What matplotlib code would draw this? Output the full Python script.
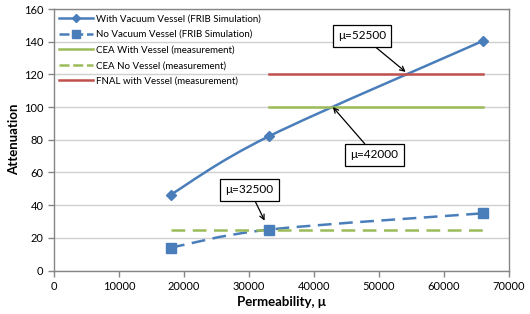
import numpy as np
import matplotlib
matplotlib.use("Agg")
import matplotlib.pyplot as plt
from matplotlib.path import Path
from matplotlib.patches import PathPatch
from matplotlib.lines import Line2D

plt.rcParams['font.family'] = ['Lato', 'DejaVu Sans']

# ---- data ----
perm_sim = [18000, 33000, 66000]
with_vessel_sim = [46.5, 82, 140.5]
no_vessel_sim = [14, 25, 35]

cea_with_x = [33000, 66000]
cea_with_y = [100, 100]
cea_no_x = [18000, 66000]
cea_no_y = [25, 25]
fnal_with_x = [33000, 66000]
fnal_with_y = [120, 120]

labels = ["With Vacuum Vessel (FRIB Simulation)",
          "No Vacuum Vessel (FRIB Simulation)",
          "CEA With Vessel (measurement)",
          "CEA No Vessel (measurement)",
          "FNAL with Vessel (measurement)"]

ann_text = ["\u03bc=52500", "\u03bc=42000", "\u03bc=32500"]
ann_xy = [(54100, 121.5), (42900, 100), (32400, 30.5)]
ann_xytext = [(47400, 143.5), (49300, 70.7), (30100, 49.3)]

blue = '#4A7EBB'
green = '#9BBB59'
red = '#C0504D'


def smooth_path(xs, ys):
    pts = np.column_stack([xs, ys]).astype(float)
    n = len(pts)
    verts = [pts[0]]
    codes = [Path.MOVETO]
    for i in range(n - 1):
        p0 = pts[i - 1] if i > 0 else pts[i]
        p1 = pts[i]
        p2 = pts[i + 1]
        p3 = pts[i + 2] if i + 2 < n else pts[i + 1]
        c1 = p1 + (p2 - p0) / 6.0
        c2 = p2 - (p3 - p1) / 6.0
        verts += [c1, c2, p2]
        codes += [Path.CURVE4] * 3
    return Path(verts, codes)


fig = plt.figure(figsize=(5.30, 3.14), dpi=100)
ax = fig.add_axes([0.1019, 0.1385, 0.8585, 0.8328])

ax.set_xlim(0, 70000)
ax.set_ylim(0, 160)
ax.set_xticks(np.arange(0, 70001, 10000))
ax.set_yticks(np.arange(0, 161, 20))
ax.grid(axis='y', color='#D0D0D0', lw=1.0)
ax.set_axisbelow(True)
for s in ax.spines.values():
    s.set_color('#868686')
    s.set_linewidth(1.0)
ax.tick_params(axis='both', colors='#868686', labelcolor='black', labelsize=8, length=4, width=1)

# smoothed simulation curves
ax.add_patch(PathPatch(smooth_path(perm_sim, with_vessel_sim), fill=False, ec=blue, lw=1.8, zorder=3))
ax.add_patch(PathPatch(smooth_path(perm_sim, no_vessel_sim), fill=False, ec=blue, lw=1.8,
                       ls=(0, (5.5, 3)), zorder=3))
ax.plot(perm_sim, with_vessel_sim, ls='none', marker='D', ms=5.5, color=blue, zorder=4)
ax.plot(perm_sim, no_vessel_sim, ls='none', marker='s', ms=6.5, color=blue, zorder=4)

ax.plot(cea_with_x, cea_with_y, color=green, lw=1.8, zorder=3)
ax.plot(cea_no_x, cea_no_y, color=green, lw=1.8, ls=(0, (5.5, 3)), zorder=3)
ax.plot(fnal_with_x, fnal_with_y, color=red, lw=1.8, zorder=3)

handles = [
    Line2D([], [], color=blue, lw=1.8, marker='D', ms=4),
    Line2D([], [], color=blue, lw=1.8, ls=(0, (4, 1.5)), marker='s', ms=6),
    Line2D([], [], color=green, lw=1.8),
    Line2D([], [], color=green, lw=1.8, ls=(0, (4, 1.5))),
    Line2D([], [], color=red, lw=1.8),
]
ax.legend(handles, labels, loc='upper left', bbox_to_anchor=(0.0, 1.0), frameon=False,
          fontsize=7.0, handlelength=3.5, handletextpad=0.3, labelspacing=0.68,
          borderaxespad=0.15)

for t, xy, xyt in zip(ann_text, ann_xy, ann_xytext):
    ax.annotate(t, xy=xy, xytext=xyt, fontsize=8.5, ha='center', va='center',
                bbox=dict(boxstyle='square,pad=0.45', fc='white', ec='black', lw=0.9),
                arrowprops=dict(arrowstyle='->', color='black', lw=0.9, shrinkA=0, shrinkB=0),
                zorder=6)

ax.set_ylabel('Attenuation', fontsize=9.5, fontweight='bold', labelpad=3)
ax.set_xlabel('Permeability, \u03bc', fontsize=9.5, fontweight='bold', labelpad=3)

fig.savefig('out.png', dpi=100)
